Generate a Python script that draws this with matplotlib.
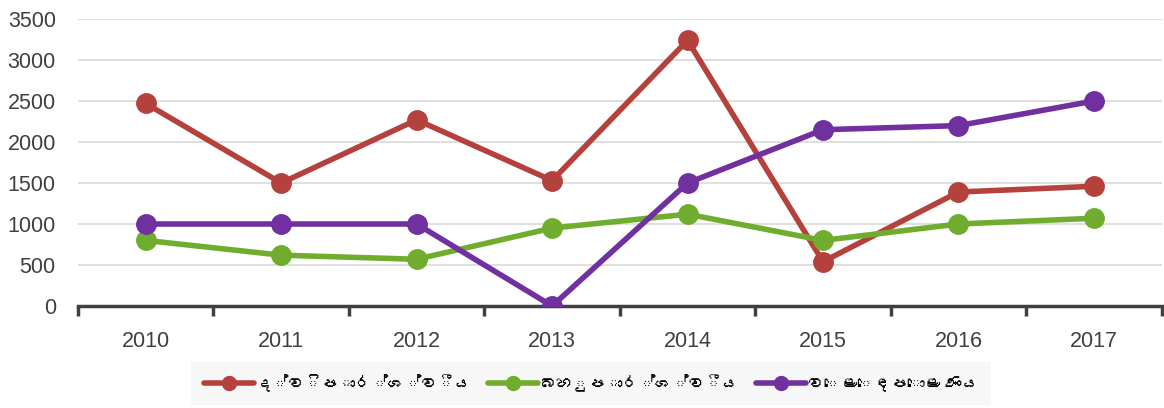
import matplotlib.pyplot as plt
from matplotlib import font_manager
from matplotlib.ft2font import FT2Font
import numpy as np

years = ['2010', '2011', '2012', '2013', '2014', '2015', '2016', '2017']
bilateral = [2470, 1500, 2270, 1530, 3240, 540, 1390, 1460]
multilateral = [800, 620, 570, 950, 1120, 800, 1000, 1070]
market_loans = [1000, 1000, 1000, 0, 1500, 2150, 2200, 2500]
labels = ['ද්විපාර්ශ්වීය', 'බහුපාර්ශ්වීය', 'වෙළෙඳපොළ ණය']
colors = ['#b5413d', '#70ad2e', '#7030a0']

# look for any installed font that can draw Sinhala
sinhala_family = None
for path in font_manager.findSystemFonts():
    try:
        if 0x0DA2 in FT2Font(path).get_charmap():
            sinhala_family = font_manager.FontProperties(fname=path).get_name()
            break
    except Exception:
        pass

families = ['Liberation Sans', 'DejaVu Sans']
if sinhala_family:
    families.insert(1, sinhala_family)
plt.rcParams['font.family'] = families

fig = plt.figure(figsize=(11.64, 4.08), dpi=100)
ax = fig.add_axes([0.067, 0.25, 0.931, 0.7034])

x = np.arange(len(years))
for vals, lab, col in zip([bilateral, multilateral, market_loans], labels, colors):
    ax.plot(x, vals, color=col, lw=4, marker='o', markersize=14,
            label=lab, solid_capstyle='round', zorder=3)

ax.set_xlim(-0.5, len(years) - 0.5)
ax.set_ylim(0, 3500)
ax.set_yticks(np.arange(0, 3501, 500))
ax.set_xticks(x)
ax.set_xticklabels(years)
ax.set_xticks(np.arange(-0.5, len(years), 1), minor=True)

ax.grid(axis='y', color='#d9d9d9', lw=1.2, zorder=0)
for s in ['top', 'right', 'left']:
    ax.spines[s].set_visible(False)
ax.spines['bottom'].set_color('#404040')
ax.spines['bottom'].set_linewidth(2.5)
ax.spines['bottom'].set_zorder(2)

ax.tick_params(axis='y', length=0, labelsize=15.5, labelcolor='#404040', pad=16)
ax.tick_params(axis='x', which='major', length=0, labelsize=15.5,
               labelcolor='#404040', pad=18)
ax.tick_params(axis='x', which='minor', length=7, width=2.5, color='#404040')

leg = fig.legend(loc='lower center', bbox_to_anchor=(0.508, -0.012), ncol=3,
                 frameon=True, fontsize=12, handlelength=3.0, columnspacing=1.0,
                 handletextpad=0.1, borderpad=0.75, fancybox=False)
leg.get_frame().set_facecolor('#f5f5f5')
leg.get_frame().set_edgecolor('none')
for h in leg.legend_handles:
    h.set_markersize(10)

fig.savefig('out.png', dpi=100)
